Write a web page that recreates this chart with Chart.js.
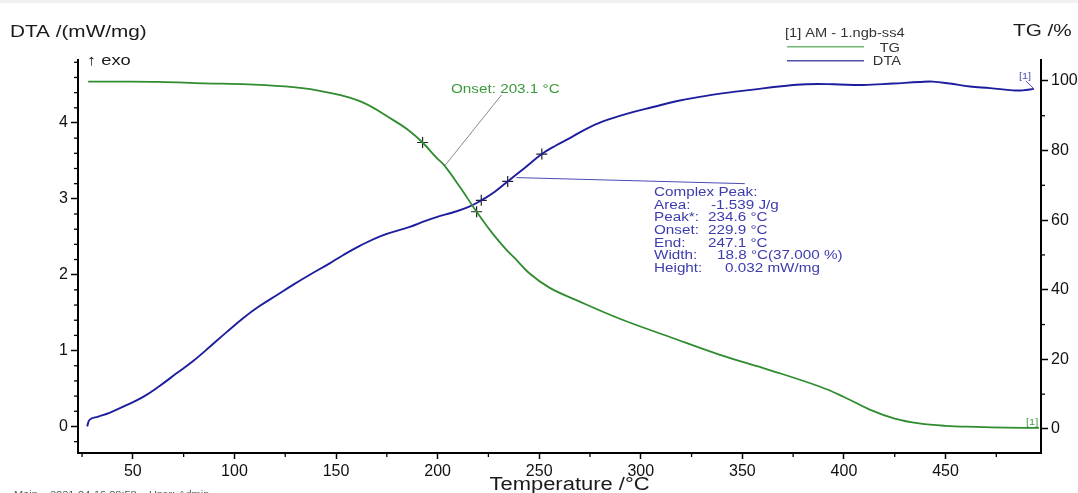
<!DOCTYPE html>
<html lang="en">
<head>
<meta charset="UTF-8">
<title>DTA / TG</title>
<style>
    * {
        margin: 0;
        padding: 0;
        box-sizing: border-box;
    }

    body {
        background: #ffffff;
        width: 1078px;
        height: 493px;
        overflow: hidden;
        position: relative;
    }

    /* thin grey strip along the top edge of the screenshot */
    .top-strip {
        position: absolute;
        left: 0;
        top: 0;
        width: 100%;
        height: 3px;
        background: #f1f1f1;
    }

    canvas {
        display: block;
    }
</style>
</head>
<body>
<div class="top-strip"></div>
<canvas id="thermoChart" width="1078" height="493"></canvas>

<script src="https://cdn.jsdelivr.net/npm/chart.js"></script>
<script>
    // TG curve (temperature °C, mass %)
    const tgTemp = [28, 45, 63, 85, 107, 129, 145, 162, 178, 186, 192.6, 199.5, 203.5, 211, 219.2, 227, 234, 238,
        245, 255, 268, 290, 314, 339, 363, 388, 400, 413, 425, 437, 450, 465, 480, 496];
    const tgValue = [99.8, 99.8, 99.7, 99.3, 99.0, 98.2, 96.8, 94.1, 88.8, 85.7, 82.3, 77.9, 75.6, 69.5, 62.4, 56.2, 51.4, 49.1,
        44.8, 40.6, 37.1, 31.6, 26.5, 21.3, 17.0, 12.2, 9.2, 5.5, 3.0, 1.6, 0.9, 0.6, 0.4, 0.3];

    // DTA curve (temperature °C, mW/mg)
    const dtaTemp = [27.5, 28.8, 33, 38.5, 46, 55.1, 63, 71.5, 80, 87.9, 96, 104.4, 112, 120.8, 129, 137.1, 146.9, 153.6,
        161.7, 172, 186.3, 191.2, 199.5, 207.4, 215, 221.5, 228, 234.5, 243, 251.3, 258, 265.1, 273, 281.4, 293, 306,
        318, 330.6, 340, 348.8, 355.3, 368, 381.6, 395, 409.4, 424.2, 437.3, 443.7, 452, 462, 472, 483.2, 488, 493.5];
    const dtaValue = [0.0, 0.09, 0.13, 0.18, 0.27, 0.39, 0.53, 0.70, 0.87, 1.05, 1.24, 1.43, 1.58, 1.73, 1.87, 2.00, 2.15, 2.26,
        2.38, 2.51, 2.63, 2.68, 2.76, 2.82, 2.89, 2.98, 3.09, 3.23, 3.41, 3.59, 3.70, 3.80, 3.92, 4.02, 4.12, 4.21,
        4.29, 4.35, 4.39, 4.42, 4.44, 4.48, 4.51, 4.51, 4.50, 4.52, 4.54, 4.545, 4.52, 4.48, 4.46, 4.43, 4.43, 4.45];

    // evaluation crosses
    const tgMarkTemp = [192.6, 219.2];
    const tgMarkValue = [82.3, 62.4];
    const dtaMarkTemp = [221.5, 234.5, 251.3];
    const dtaMarkValue = [2.98, 3.23, 3.59];

    // leader lines from the labels to the curves
    const onsetLeaderTemp = [203.5, 231.5];
    const onsetLeaderValue = [75.6, 96];
    const peakLeaderTemp = [238.8, 351.2];
    const peakLeaderValue = [3.28, 3.20];

    // axis ticks
    const xTicks = [50, 100, 150, 200, 250, 300, 350, 400, 450];
    const dtaTicks = [0, 1, 2, 3, 4];
    const tgTicks = [0, 20, 40, 60, 80, 100];

    // peak evaluation text
    const peakLabels = ['Area:', 'Peak*:', 'Onset:', 'End:', 'Width:', 'Height:'];
    const peakValues = ['-1.539 J/g', '234.6 °C', '229.9 °C', '247.1 °C', '18.8 °C(37.000 %)', '0.032 mW/mg'];

    const FONT = '"Liberation Sans", Arial, sans-serif';
    const GREEN = '#2f8c2f';
    const BLUE = '#1d1d9e';
    const SX = 1.22; // text in the reference is stretched sideways

    function pts(xs, ys) {
        return xs.map((x, i) => ({ x: x, y: ys[i] }));
    }

    function stepList(from, to, step) {
        const out = [];
        for (let v = from; v <= to + 1e-9; v += step) out.push(+v.toFixed(3));
        return out;
    }

    function text(ctx, str, x, y, size, color, align) {
        ctx.save();
        ctx.font = size + 'px ' + FONT;
        ctx.fillStyle = color;
        ctx.textAlign = align || 'left';
        ctx.textBaseline = 'alphabetic';
        ctx.translate(x, y);
        ctx.scale(SX, 1);
        ctx.fillText(str, 0, 0);
        ctx.restore();
    }

    function line(ctx, x1, y1, x2, y2, color, w) {
        ctx.save();
        ctx.strokeStyle = color;
        ctx.lineWidth = w;
        ctx.beginPath();
        ctx.moveTo(x1, y1);
        ctx.lineTo(x2, y2);
        ctx.stroke();
        ctx.restore();
    }

    // minor ticks, titles, legend and annotation text
    const decorPlugin = {
        id: 'decor',
        afterDraw(chart) {
            const ctx = chart.ctx;
            const x = chart.scales.x, y = chart.scales.y, y1 = chart.scales.y1;
            const area = chart.chartArea;

            stepList(25, 475, 25).filter(v => v % 50 !== 0 && v > x.min && v < x.max).forEach(v => {
                const px = x.getPixelForValue(v);
                line(ctx, px, area.bottom, px, area.bottom + 4, '#000', 1.3);
            });
            stepList(-0.2, 4.8, 0.2).filter(v => Math.abs(v - Math.round(v)) > 0.01 && v > y.min && v < y.max).forEach(v => {
                const py = y.getPixelForValue(v);
                line(ctx, area.left, py, area.left - 4, py, '#000', 1.3);
            });
            stepList(0, 100, 10).filter(v => v % 20 !== 0).forEach(v => {
                const py = y1.getPixelForValue(v);
                line(ctx, area.right, py, area.right + 4, py, '#000', 1.3);
            });

            // axis titles
            text(ctx, 'DTA /(mW/mg)', 10, 37, 17, '#1a1a1a');
            text(ctx, 'TG /%', 1013, 36, 17, '#1a1a1a');
            text(ctx, '↑ exo', 87, 65, 15, '#1a1a1a');
            text(ctx, 'Temperature /°C', (area.left + area.right) / 2 + 10, 490, 18, '#1a1a1a', 'center');

            // legend
            text(ctx, '[1] AM - 1.ngb-ss4', 785, 37, 12, '#333');
            line(ctx, 787, 46.7, 864, 46.7, '#74b474', 1.4);
            text(ctx, 'TG', 900, 51.5, 12, '#333', 'right');
            line(ctx, 787, 60.7, 864, 60.7, '#5252a8', 1.4);
            text(ctx, 'DTA', 901, 65, 12, '#333', 'right');

            // onset label
            text(ctx, 'Onset: 203.1 °C', 451, 93.3, 12.5, '#3a9a3a');

            // peak evaluation block
            const bx = 654;
            const valueX = [711, 708, 708, 708, 717, 725];
            text(ctx, 'Complex Peak:', bx, 196, 12.5, '#3c3cae');
            peakLabels.forEach((lab, i) => {
                const by = 208.8 + i * 12.6;
                text(ctx, lab, bx, by, 12.5, '#3c3cae');
                text(ctx, peakValues[i], valueX[i], by, 12.5, '#3c3cae');
            });

            // curve end tags
            const dEnd = dtaTemp.length - 1;
            const dx = x.getPixelForValue(dtaTemp[dEnd]);
            const dy = y.getPixelForValue(dtaValue[dEnd]);
            line(ctx, dx - 8, dy - 8, dx, dy, '#5050b8', 1);
            text(ctx, '[1]', dx - 15, dy - 10, 9, '#5050b8');
            const gEnd = tgTemp.length - 1;
            const gx = x.getPixelForValue(tgTemp[gEnd]);
            const gy = y1.getPixelForValue(tgValue[gEnd]);
            text(ctx, '[1]', gx - 13, gy - 3, 9, '#4a9a4a');

            // footer, cut off by the bottom edge
            text(ctx, 'Main    2021-04-16 09:58    User: Admin', 14, 497, 9, '#555');
        }
    };

    const ctx = document.getElementById('thermoChart').getContext('2d');
    const thermoChart = new Chart(ctx, {
        type: 'line',
        data: {
            datasets: [
                {
                    label: 'TG',
                    data: pts(tgTemp, tgValue),
                    yAxisID: 'y1',
                    borderColor: GREEN,
                    borderWidth: 1.8,
                    pointRadius: 0,
                    tension: 0.4,
                    fill: false
                },
                {
                    label: 'DTA',
                    data: pts(dtaTemp, dtaValue),
                    yAxisID: 'y',
                    borderColor: BLUE,
                    borderWidth: 1.9,
                    pointRadius: 0,
                    tension: 0.4,
                    fill: false
                },
                {
                    label: 'onset leader',
                    data: pts(onsetLeaderTemp, onsetLeaderValue),
                    yAxisID: 'y1',
                    borderColor: '#8a8a8a',
                    borderWidth: 1,
                    pointRadius: 0
                },
                {
                    label: 'peak leader',
                    data: pts(peakLeaderTemp, peakLeaderValue),
                    yAxisID: 'y',
                    borderColor: '#4a4ab2',
                    borderWidth: 1,
                    pointRadius: 0
                },
                {
                    label: 'TG marks',
                    data: pts(tgMarkTemp, tgMarkValue),
                    yAxisID: 'y1',
                    showLine: false,
                    pointStyle: 'cross',
                    pointRadius: 5.5,
                    borderColor: '#222',
                    borderWidth: 1.2
                },
                {
                    label: 'DTA marks',
                    data: pts(dtaMarkTemp, dtaMarkValue),
                    yAxisID: 'y',
                    showLine: false,
                    pointStyle: 'cross',
                    pointRadius: 5.5,
                    borderColor: '#222',
                    borderWidth: 1.2
                }
            ]
        },
        options: {
            responsive: false,
            animation: false,
            devicePixelRatio: 1,
            layout: { padding: { top: 60, left: 0, right: 0, bottom: 0 } },
            plugins: {
                legend: { display: false },
                tooltip: { enabled: false }
            },
            scales: {
                x: {
                    type: 'linear',
                    min: 23,
                    max: 497,
                    afterBuildTicks: axis => { axis.ticks = xTicks.map(v => ({ value: v })); },
                    afterFit: axis => { axis.height = 40; },
                    grid: { drawOnChartArea: false, drawTicks: true, tickLength: 6, tickWidth: 1.5, tickColor: '#000' },
                    border: { display: true, color: '#000', width: 2 },
                    ticks: { color: '#111', font: { family: FONT, size: 16 }, padding: 3, maxRotation: 0, autoSkip: false }
                },
                y: {
                    type: 'linear',
                    position: 'left',
                    min: -0.35,
                    max: 4.83,
                    afterBuildTicks: axis => { axis.ticks = dtaTicks.map(v => ({ value: v })); },
                    afterFit: axis => { axis.width = 78; },
                    grid: { drawOnChartArea: false, drawTicks: true, tickLength: 7, tickWidth: 1.5, tickColor: '#000' },
                    border: { display: true, color: '#000', width: 2 },
                    ticks: { color: '#111', font: { family: FONT, size: 16 }, padding: 3 }
                },
                y1: {
                    type: 'linear',
                    position: 'right',
                    min: -6.9,
                    max: 106,
                    afterBuildTicks: axis => { axis.ticks = tgTicks.map(v => ({ value: v })); },
                    afterFit: axis => { axis.width = 37; },
                    grid: { drawOnChartArea: false, drawTicks: true, tickLength: 7, tickWidth: 1.5, tickColor: '#000' },
                    border: { display: true, color: '#000', width: 2 },
                    ticks: { color: '#111', font: { family: FONT, size: 16 }, padding: 3 }
                }
            }
        },
        plugins: [decorPlugin]
    });
</script>
</body>
</html>
